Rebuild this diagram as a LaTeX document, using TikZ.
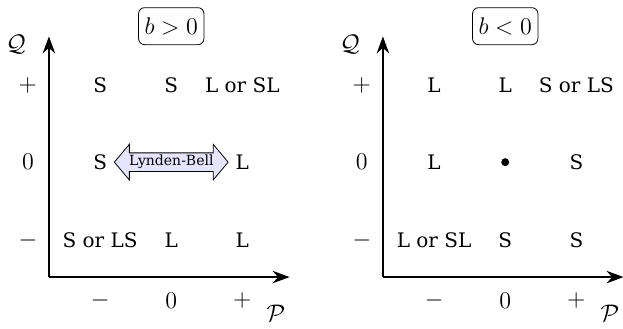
\documentclass[tikz,border=0pt]{standalone}
\usepackage[no-math]{fontspec}
\setmainfont{DejaVu Serif}
\usepackage{amsmath}
\usepackage{amssymb}
\usepackage{tikz}
\usetikzlibrary{arrows.meta, positioning, shapes.arrows}

\begin{document}
\begin{tikzpicture}[
    axis/.style={-{Stealth[length=3mm, width=2.2mm]}, thick},
    entry/.style={inner sep=1pt},
    tick/.style={inner sep=1pt, font=\large},
    axlabel/.style={inner sep=1pt, font=\large},
    signbox/.style={draw, rounded corners=3pt, inner xsep=3pt, font=\large,
                    minimum height=0.65cm},
    lbarrow/.style={double arrow, draw, fill=blue!10, font=\scriptsize,
                    minimum height=2cm, minimum width=0.62cm,
                    double arrow head extend=4.3pt, double arrow tip angle=100,
                    inner xsep=0pt, inner ysep=1pt}
]
    \useasboundingbox (-0.86,-0.91) rectangle (10.09,4.87);

    % left panel, b > 0
    \coordinate (o1) at (0,0);
    \coordinate (qtip1) at (0,4.23);
    \coordinate (ptip1) at (4.23,0);
    \draw[axis] (o1) -- (qtip1);
    \draw[axis] (o1) -- (ptip1);
    \node[axlabel] (qlab1) at (-0.58,4.08) {$\mathcal{Q}$};
    \node[axlabel] (plab1) at (3.99,-0.63) {$\mathcal{P}$};
    \node[signbox] (sign1) at (2.15,4.41) {$b>0$};

    \node[tick] (qp1) at (-0.37,3.37) {$+$};
    \node[tick] (qz1) at (-0.37,2.02) {$0$};
    \node[tick] (qm1) at (-0.37,0.65) {$-$};
    \node[tick] (pm1) at (0.9,-0.42) {$-$};
    \node[tick] (pz1) at (2.15,-0.42) {$0$};
    \node[tick] (pp1) at (3.4,-0.42) {$+$};

    \node[entry] (a11) at (0.9,3.37) {S};
    \node[entry] (a12) at (2.15,3.37) {S};
    \node[entry] (a13) at (3.4,3.37) {L or SL};
    \node[entry] (a21) at (0.9,2.02) {S};
    \node[lbarrow] (lb) at (2.15,2.02) {Lynden-Bell};
    \node[entry] (a23) at (3.4,2.02) {L};
    \node[entry] (a31) at (0.9,0.65) {S or LS};
    \node[entry] (a32) at (2.15,0.65) {L};
    \node[entry] (a33) at (3.4,0.65) {L};

    % right panel, b < 0
    \coordinate (o2) at (5.87,0);
    \coordinate (qtip2) at (5.87,4.23);
    \coordinate (ptip2) at (10.1,0);
    \draw[axis] (o2) -- (qtip2);
    \draw[axis] (o2) -- (ptip2);
    \node[axlabel] (qlab2) at (5.29,4.08) {$\mathcal{Q}$};
    \node[axlabel] (plab2) at (9.86,-0.63) {$\mathcal{P}$};
    \node[signbox] (sign2) at (8.02,4.41) {$b<0$};

    \node[tick] (qp2) at (5.5,3.37) {$+$};
    \node[tick] (qz2) at (5.5,2.02) {$0$};
    \node[tick] (qm2) at (5.5,0.65) {$-$};
    \node[tick] (pm2) at (6.77,-0.42) {$-$};
    \node[tick] (pz2) at (8.02,-0.42) {$0$};
    \node[tick] (pp2) at (9.27,-0.42) {$+$};

    \node[entry] (b11) at (6.77,3.37) {L};
    \node[entry] (b12) at (8.02,3.37) {L};
    \node[entry] (b13) at (9.27,3.37) {S or LS};
    \node[entry] (b21) at (6.77,2.02) {L};
    \node[circle, fill, inner sep=0pt, minimum size=4pt] (dot) at (8.02,2.02) {};
    \node[entry] (b23) at (9.27,2.02) {S};
    \node[entry] (b31) at (6.77,0.65) {L or SL};
    \node[entry] (b32) at (8.02,0.65) {S};
    \node[entry] (b33) at (9.27,0.65) {S};
\end{tikzpicture}
\end{document}
